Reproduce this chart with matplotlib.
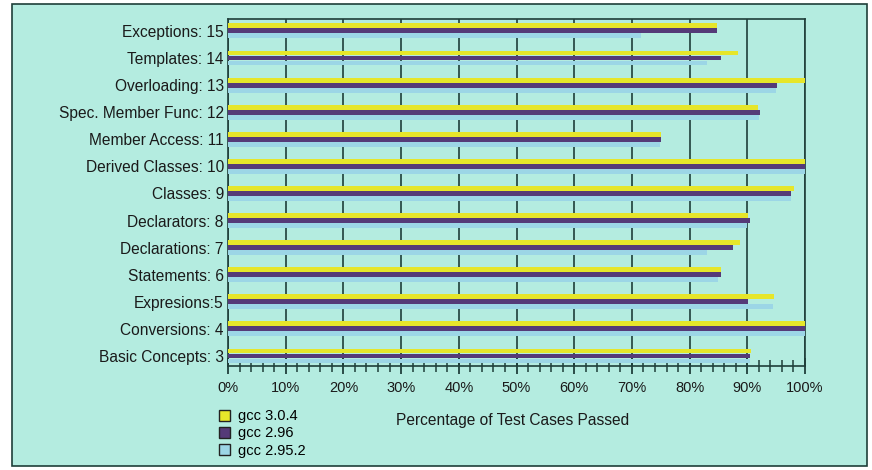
import numpy as np
import matplotlib
matplotlib.use("Agg")
import matplotlib.pyplot as plt
from matplotlib.patches import Patch, Rectangle

plt.rcParams['font.family'] = ['Liberation Sans', 'DejaVu Sans']

# data (bottom to top)
categories = ['Basic Concepts: 3', 'Conversions: 4', 'Expresions:5', 'Statements: 6',
              'Declarations: 7', 'Declarators: 8', 'Classes: 9', 'Derived Classes: 10',
              'Member Access: 11', 'Spec. Member Func: 12', 'Overloading: 13',
              'Templates: 14', 'Exceptions: 15']
gcc_304 = [90.7, 100, 94.7, 85.5, 88.7, 90.1, 98.1, 100, 75.1, 91.8, 100, 88.4, 84.7]
gcc_296 = [90.5, 100, 90.1, 85.5, 87.5, 90.4, 97.6, 100, 75.0, 92.2, 95.1, 85.5, 84.7]
gcc_2952 = [90.5, 100, 94.4, 85.0, 83.0, 90.0, 97.6, 100, 74.8, 92.0, 95.0, 83.0, 71.6]
series_names = ['gcc 3.0.4', 'gcc 2.96', 'gcc 2.95.2']

bg = '#b4ece0'
col_yellow = '#e6e62a'
col_purple = '#553a78'
col_blue = '#9cd6e6'
edge = '#1f3f3a'

W, H = 872, 470
fig = plt.figure(figsize=(W / 100, H / 100), dpi=100, facecolor='white')
fig.patches.append(Rectangle((12 / W, 1 - 466 / H), (867 - 12) / W, (466 - 4) / H,
                             transform=fig.transFigure, facecolor=bg,
                             edgecolor=edge, linewidth=1.2, zorder=-5))

ax = fig.add_axes([228 / W, 1 - 366 / H, (805 - 228) / W, (366 - 19) / H])
ax.set_facecolor(bg)

y = np.arange(len(categories))
h = 0.18
off = 0.185
ax.barh(y + off, gcc_304, height=h, color=col_yellow, zorder=3)
ax.barh(y, gcc_296, height=h, color=col_purple, zorder=3)
ax.barh(y - off, gcc_2952, height=h, color=col_blue, zorder=3)

ax.set_xlim(0, 100)
ax.set_ylim(-0.37, len(categories) - 1 + 0.44)
ax.set_yticks(y)
ax.set_yticklabels(categories, fontsize=11.2, color='#1a1a1a')
ax.tick_params(axis='y', length=0, pad=3)

ax.set_xticks(np.arange(0, 101, 10))
ax.set_xticklabels([f'{v}%' for v in range(0, 101, 10)], fontsize=10.5, color='#1a1a1a')
ax.set_xticks(np.arange(0, 101, 2), minor=True)
ax.tick_params(axis='x', which='major', direction='inout', length=12, width=1.3,
               color=edge, pad=5)
ax.tick_params(axis='x', which='minor', direction='inout', length=9, width=1.1, color=edge)
ax.grid(axis='x', which='major', color=edge, linewidth=1.2, zorder=1)
ax.set_axisbelow(True)

for s in ax.spines.values():
    s.set_color(edge)
    s.set_linewidth(1.2)

handles = [Patch(facecolor=c, edgecolor='#222222', linewidth=1)
           for c in [col_yellow, col_purple, col_blue]]
fig.legend(handles, series_names, loc='upper left',
           bbox_to_anchor=(212 / W, 1 - 402 / H), frameon=False, fontsize=10.5,
           handlelength=0.7, handleheight=0.8, handletextpad=0.6,
           labelspacing=0.22, borderpad=0)

fig.text(513 / W, 1 - 420 / H, 'Percentage of Test Cases Passed', fontsize=11.2,
         ha='center', va='center', color='#1a1a1a')

fig.savefig('out.png', dpi=100, facecolor='white')
